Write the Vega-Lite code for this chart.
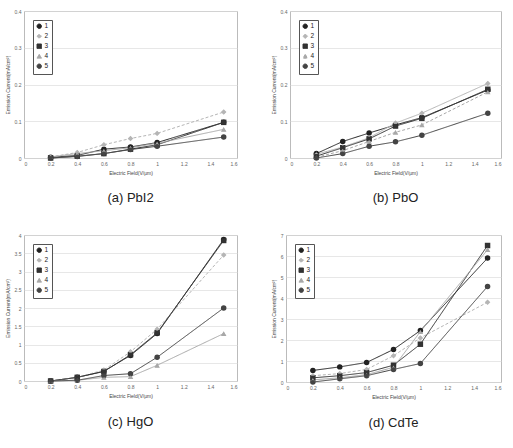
{
  "$schema": "https://vega.github.io/schema/vega-lite/v6.json",
  "padding": {"left": 4, "top": 8, "right": 4, "bottom": 2},
  "background": "white",
  "spacing": 26,
  "datasets": {
    "pbi2": [
      {"series": "1", "E": 0.2, "J": 0.002}, {"series": "1", "E": 0.4, "J": 0.007}, {"series": "1", "E": 0.6, "J": 0.024}, {"series": "1", "E": 0.8, "J": 0.030}, {"series": "1", "E": 1.0, "J": 0.042}, {"series": "1", "E": 1.5, "J": 0.097},
      {"series": "2", "E": 0.2, "J": 0.003}, {"series": "2", "E": 0.4, "J": 0.015}, {"series": "2", "E": 0.6, "J": 0.036}, {"series": "2", "E": 0.8, "J": 0.053}, {"series": "2", "E": 1.0, "J": 0.067}, {"series": "2", "E": 1.5, "J": 0.125},
      {"series": "3", "E": 0.2, "J": 0.000}, {"series": "3", "E": 0.4, "J": 0.005}, {"series": "3", "E": 0.6, "J": 0.012}, {"series": "3", "E": 0.8, "J": 0.024}, {"series": "3", "E": 1.0, "J": 0.036}, {"series": "3", "E": 1.5, "J": 0.097},
      {"series": "4", "E": 0.2, "J": 0.003}, {"series": "4", "E": 0.4, "J": 0.012}, {"series": "4", "E": 0.6, "J": 0.020}, {"series": "4", "E": 0.8, "J": 0.028}, {"series": "4", "E": 1.0, "J": 0.040}, {"series": "4", "E": 1.5, "J": 0.078},
      {"series": "5", "E": 0.2, "J": 0.000}, {"series": "5", "E": 0.4, "J": 0.004}, {"series": "5", "E": 0.6, "J": 0.012}, {"series": "5", "E": 0.8, "J": 0.023}, {"series": "5", "E": 1.0, "J": 0.032}, {"series": "5", "E": 1.5, "J": 0.057}
    ],
    "pbo": [
      {"series": "1", "E": 0.2, "J": 0.012}, {"series": "1", "E": 0.4, "J": 0.045}, {"series": "1", "E": 0.6, "J": 0.068}, {"series": "1", "E": 0.8, "J": 0.090}, {"series": "1", "E": 1.0, "J": 0.110}, {"series": "1", "E": 1.5, "J": 0.185},
      {"series": "2", "E": 0.2, "J": 0.010}, {"series": "2", "E": 0.4, "J": 0.030}, {"series": "2", "E": 0.6, "J": 0.055}, {"series": "2", "E": 0.8, "J": 0.095}, {"series": "2", "E": 1.0, "J": 0.122}, {"series": "2", "E": 1.5, "J": 0.203},
      {"series": "3", "E": 0.2, "J": 0.005}, {"series": "3", "E": 0.4, "J": 0.028}, {"series": "3", "E": 0.6, "J": 0.052}, {"series": "3", "E": 0.8, "J": 0.087}, {"series": "3", "E": 1.0, "J": 0.108}, {"series": "3", "E": 1.5, "J": 0.187},
      {"series": "4", "E": 0.2, "J": 0.002}, {"series": "4", "E": 0.4, "J": 0.020}, {"series": "4", "E": 0.6, "J": 0.045}, {"series": "4", "E": 0.8, "J": 0.070}, {"series": "4", "E": 1.0, "J": 0.090}, {"series": "4", "E": 1.5, "J": 0.180},
      {"series": "5", "E": 0.2, "J": 0.000}, {"series": "5", "E": 0.4, "J": 0.012}, {"series": "5", "E": 0.6, "J": 0.032}, {"series": "5", "E": 0.8, "J": 0.044}, {"series": "5", "E": 1.0, "J": 0.062}, {"series": "5", "E": 1.5, "J": 0.122}
    ],
    "hgo": [
      {"series": "1", "E": 0.2, "J": 0.0}, {"series": "1", "E": 0.4, "J": 0.10}, {"series": "1", "E": 0.6, "J": 0.27}, {"series": "1", "E": 0.8, "J": 0.70}, {"series": "1", "E": 1.0, "J": 1.30}, {"series": "1", "E": 1.5, "J": 3.88},
      {"series": "2", "E": 0.2, "J": 0.0}, {"series": "2", "E": 0.4, "J": 0.10}, {"series": "2", "E": 0.6, "J": 0.30}, {"series": "2", "E": 0.8, "J": 0.80}, {"series": "2", "E": 1.0, "J": 1.42}, {"series": "2", "E": 1.5, "J": 3.45},
      {"series": "3", "E": 0.2, "J": 0.0}, {"series": "3", "E": 0.4, "J": 0.10}, {"series": "3", "E": 0.6, "J": 0.26}, {"series": "3", "E": 0.8, "J": 0.72}, {"series": "3", "E": 1.0, "J": 1.32}, {"series": "3", "E": 1.5, "J": 3.85},
      {"series": "4", "E": 0.2, "J": 0.0}, {"series": "4", "E": 0.4, "J": 0.02}, {"series": "4", "E": 0.6, "J": 0.10}, {"series": "4", "E": 0.8, "J": 0.12}, {"series": "4", "E": 1.0, "J": 0.43}, {"series": "4", "E": 1.5, "J": 1.30},
      {"series": "5", "E": 0.2, "J": 0.0}, {"series": "5", "E": 0.4, "J": 0.02}, {"series": "5", "E": 0.6, "J": 0.15}, {"series": "5", "E": 0.8, "J": 0.20}, {"series": "5", "E": 1.0, "J": 0.65}, {"series": "5", "E": 1.5, "J": 2.00}
    ],
    "cdte": [
      {"series": "1", "E": 0.2, "J": 0.55}, {"series": "1", "E": 0.4, "J": 0.72}, {"series": "1", "E": 0.6, "J": 0.93}, {"series": "1", "E": 0.8, "J": 1.55}, {"series": "1", "E": 1.0, "J": 2.45}, {"series": "1", "E": 1.5, "J": 5.90},
      {"series": "2", "E": 0.2, "J": 0.30}, {"series": "2", "E": 0.4, "J": 0.40}, {"series": "2", "E": 0.6, "J": 0.60}, {"series": "2", "E": 0.8, "J": 1.25}, {"series": "2", "E": 1.0, "J": 2.10}, {"series": "2", "E": 1.5, "J": 3.80},
      {"series": "3", "E": 0.2, "J": 0.20}, {"series": "3", "E": 0.4, "J": 0.30}, {"series": "3", "E": 0.6, "J": 0.45}, {"series": "3", "E": 0.8, "J": 0.80}, {"series": "3", "E": 1.0, "J": 1.80}, {"series": "3", "E": 1.5, "J": 6.50},
      {"series": "4", "E": 0.2, "J": 0.10}, {"series": "4", "E": 0.4, "J": 0.20}, {"series": "4", "E": 0.6, "J": 0.35}, {"series": "4", "E": 0.8, "J": 0.70}, {"series": "4", "E": 1.0, "J": 2.40}, {"series": "4", "E": 1.5, "J": 6.30},
      {"series": "5", "E": 0.2, "J": 0.00}, {"series": "5", "E": 0.4, "J": 0.15}, {"series": "5", "E": 0.6, "J": 0.30}, {"series": "5", "E": 0.8, "J": 0.60}, {"series": "5", "E": 1.0, "J": 0.88}, {"series": "5", "E": 1.5, "J": 4.55}
    ]
  },
  "config": {
    "view": {"stroke": "#bbbbbb", "strokeWidth": 1},
    "font": "Liberation Sans",
    "axis": {"labelFontSize": 5, "labelColor": "#666", "titleFontSize": 5, "titleColor": "#444", "titleFontWeight": "normal", "domain": false, "ticks": false, "labelPadding": 3, "titlePadding": 4, "gridColor": "#dddddd", "gridWidth": 0.7, "format": "~g"},
    "axisX": {"grid": false},
    "title": {"fontSize": 13, "fontWeight": "normal", "color": "#222", "font": "Liberation Sans"},
    "legend": {"orient": "top-left", "offset": 9, "strokeColor": "#555", "fillColor": "white", "padding": 3, "labelFontSize": 6.5, "labelColor": "#222", "symbolSize": 20, "rowPadding": 1, "labelOffset": 2, "symbolStrokeWidth": 1, "title": null}
  },
  "resolve": {"legend": {"color": "independent", "shape": "independent", "strokeDash": "independent"}, "scale": {"color": "independent", "shape": "independent", "strokeDash": "independent"}},
  "vconcat": [
    {
      "spacing": 32,
      "resolve": {"legend": {"color": "independent", "shape": "independent", "strokeDash": "independent"}, "scale": {"color": "independent", "shape": "independent", "strokeDash": "independent"}},
      "hconcat": [
        {
          "width": 213, "height": 147,
          "data": {"name": "pbi2"},
          "title": {"text": "(a)  PbI2", "orient": "bottom", "offset": 17},
          "encoding": {
            "x": {"field": "E", "type": "quantitative", "scale": {"domain": [0, 1.6]}, "axis": {"values": [0, 0.2, 0.4, 0.6, 0.8, 1, 1.2, 1.4, 1.6], "title": "Electric Field(V/μm)"}},
            "y": {"field": "J", "type": "quantitative", "scale": {"domain": [0, 0.4]}, "axis": {"values": [0, 0.1, 0.2, 0.3, 0.4], "title": "Emission Current(mA/cm²)"}},
            "color": {"field": "series", "type": "nominal", "scale": {"domain": ["1","2","3","4","5"], "range": ["#222222", "#b5b5b5", "#333333", "#a8a8a8", "#444444"]}},
            "shape": {"field": "series", "type": "nominal", "scale": {"domain": ["1","2","3","4","5"], "range": ["circle", "diamond", "square", "triangle-up", "circle"]}},
            "strokeDash": {"field": "series", "type": "nominal", "scale": {"domain": ["1","2","3","4","5"], "range": [[1,0],[3,2],[1,0],[1,0],[1,0]]}}
          },
          "layer": [
            {"mark": {"type": "line", "strokeWidth": 1}},
            {"mark": {"type": "point", "filled": true, "size": 18, "opacity": 1}}
          ]
        },
        {
          "width": 211, "height": 147,
          "data": {"name": "pbo"},
          "title": {"text": "(b)  PbO", "orient": "bottom", "offset": 17},
          "encoding": {
            "x": {"field": "E", "type": "quantitative", "scale": {"domain": [0, 1.6]}, "axis": {"values": [0, 0.2, 0.4, 0.6, 0.8, 1, 1.2, 1.4, 1.6], "title": "Electric Field(V/μm)"}},
            "y": {"field": "J", "type": "quantitative", "scale": {"domain": [0, 0.4]}, "axis": {"values": [0, 0.1, 0.2, 0.3, 0.4], "title": "Emission Current(mA/cm²)"}},
            "color": {"field": "series", "type": "nominal", "scale": {"domain": ["1","2","3","4","5"], "range": ["#222222", "#b5b5b5", "#333333", "#a8a8a8", "#444444"]}},
            "shape": {"field": "series", "type": "nominal", "scale": {"domain": ["1","2","3","4","5"], "range": ["circle", "diamond", "square", "triangle-up", "circle"]}},
            "strokeDash": {"field": "series", "type": "nominal", "scale": {"domain": ["1","2","3","4","5"], "range": [[1,0],[1,0],[1,0],[3,2],[1,0]]}}
          },
          "layer": [
            {"mark": {"type": "line", "strokeWidth": 1}},
            {"mark": {"type": "point", "filled": true, "size": 18, "opacity": 1}}
          ]
        }
      ]
    },
    {
      "spacing": 32,
      "resolve": {"legend": {"color": "independent", "shape": "independent", "strokeDash": "independent"}, "scale": {"color": "independent", "shape": "independent", "strokeDash": "independent"}},
      "hconcat": [
        {
          "width": 213, "height": 146,
          "data": {"name": "hgo"},
          "title": {"text": "(c)  HgO", "orient": "bottom", "offset": 18},
          "encoding": {
            "x": {"field": "E", "type": "quantitative", "scale": {"domain": [0, 1.6]}, "axis": {"values": [0, 0.2, 0.4, 0.6, 0.8, 1, 1.2, 1.4, 1.6], "title": "Electric Field(V/μm)"}},
            "y": {"field": "J", "type": "quantitative", "scale": {"domain": [0, 4]}, "axis": {"values": [0, 0.5, 1, 1.5, 2, 2.5, 3, 3.5, 4], "title": "Emission Current(mA/cm²)"}},
            "color": {"field": "series", "type": "nominal", "scale": {"domain": ["1","2","3","4","5"], "range": ["#222222", "#b5b5b5", "#333333", "#a8a8a8", "#444444"]}},
            "shape": {"field": "series", "type": "nominal", "scale": {"domain": ["1","2","3","4","5"], "range": ["circle", "diamond", "square", "triangle-up", "circle"]}},
            "strokeDash": {"field": "series", "type": "nominal", "scale": {"domain": ["1","2","3","4","5"], "range": [[1,0],[3,2],[1,0],[1,0],[1,0]]}}
          },
          "layer": [
            {"mark": {"type": "line", "strokeWidth": 1}},
            {"mark": {"type": "point", "filled": true, "size": 18, "opacity": 1}}
          ]
        },
        {
          "width": 215, "height": 147,
          "data": {"name": "cdte"},
          "title": {"text": "(d)  CdTe", "orient": "bottom", "offset": 18},
          "encoding": {
            "x": {"field": "E", "type": "quantitative", "scale": {"domain": [0, 1.6]}, "axis": {"values": [0, 0.2, 0.4, 0.6, 0.8, 1, 1.2, 1.4, 1.6], "title": "Electric Field(V/μm)"}},
            "y": {"field": "J", "type": "quantitative", "scale": {"domain": [0, 7]}, "axis": {"values": [0, 1, 2, 3, 4, 5, 6, 7], "title": "Emission Current(mA/cm²)"}},
            "color": {"field": "series", "type": "nominal", "scale": {"domain": ["1","2","3","4","5"], "range": ["#222222", "#b5b5b5", "#333333", "#a8a8a8", "#444444"]}},
            "shape": {"field": "series", "type": "nominal", "scale": {"domain": ["1","2","3","4","5"], "range": ["circle", "diamond", "square", "triangle-up", "circle"]}},
            "strokeDash": {"field": "series", "type": "nominal", "scale": {"domain": ["1","2","3","4","5"], "range": [[1,0],[3,2],[1,0],[1,0],[1,0]]}}
          },
          "layer": [
            {"mark": {"type": "line", "strokeWidth": 1}},
            {"mark": {"type": "point", "filled": true, "size": 18, "opacity": 1}}
          ]
        }
      ]
    }
  ]
}
